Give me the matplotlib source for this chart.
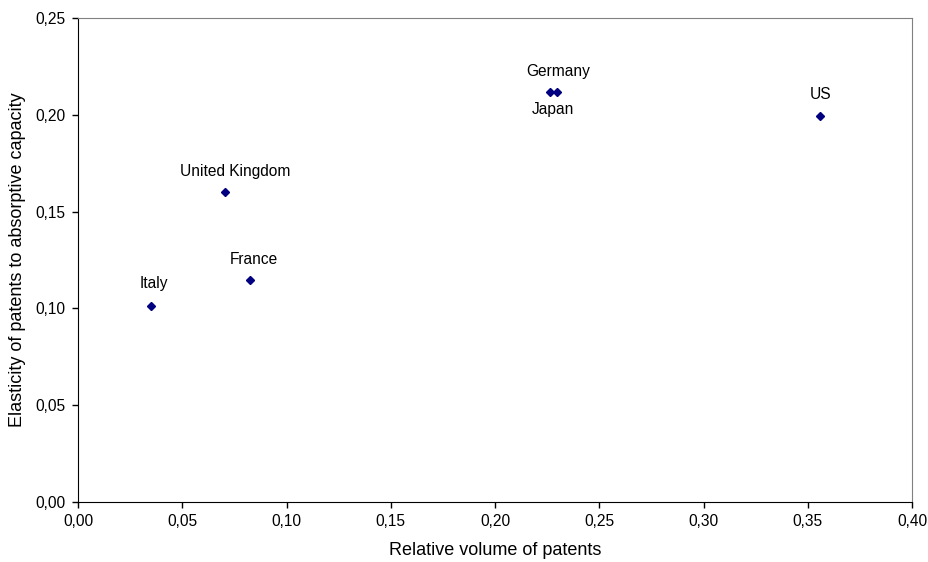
import matplotlib
matplotlib.use("Agg")
from matplotlib import pyplot as plt

plt.rcParams['font.family'] = ['Liberation Sans', 'DejaVu Sans']

countries = ['Italy', 'United Kingdom', 'France', 'Germany', 'Japan', 'US']
rel_volume = [0.035, 0.0705, 0.0823, 0.2264, 0.2296, 0.356]
elasticity = [0.1014, 0.1603, 0.1145, 0.2119, 0.2119, 0.1995]

x_ticks = [0.00, 0.05, 0.10, 0.15, 0.20, 0.25, 0.30, 0.35, 0.40]
y_ticks = [0.00, 0.05, 0.10, 0.15, 0.20, 0.25]

# label offsets in pixels (dx, dy) relative to each point
label_offsets = {
    'Italy': (3, 22),
    'United Kingdom': (10, 20),
    'France': (4, 21),
    'Germany': (8, 20),
    'Japan': (-4, -18),
    'US': (0, 21),
}


def fmt(v):
    return ('%.2f' % v).replace('.', ',')


def main():
    fig = plt.figure(figsize=(9.29, 5.62), dpi=100)
    ax = fig.add_axes([0.084, 0.1068, 0.8977, 0.8612])

    ax.plot(rel_volume, elasticity, linestyle='none', marker='D',
            markersize=4.2, color='#000080')

    for name, x, y in zip(countries, rel_volume, elasticity):
        dx, dy = label_offsets[name]
        ax.annotate(name, (x, y), xytext=(dx * 0.72, dy * 0.72),
                    textcoords='offset points', ha='center', va='center',
                    fontsize=11.2)

    ax.set_xlim(0, 0.40)
    ax.set_ylim(0, 0.25)
    ax.set_xticks(x_ticks)
    ax.set_xticklabels([fmt(v) for v in x_ticks])
    ax.set_yticks(y_ticks)
    ax.set_yticklabels([fmt(v) for v in y_ticks])
    ax.tick_params(direction='out', length=4, width=1, labelsize=11.2, pad=5)

    ax.spines['left'].set_color('black')
    ax.spines['bottom'].set_color('black')
    ax.spines['top'].set_color('#808080')
    ax.spines['right'].set_color('#808080')

    ax.set_xlabel('Relative volume of patents', fontsize=13, labelpad=9)
    ax.set_ylabel('Elasticity of patents to absorptive capacity', fontsize=13,
                  labelpad=7)

    fig.savefig('out.png', dpi=100)


if __name__ == '__main__':
    main()
